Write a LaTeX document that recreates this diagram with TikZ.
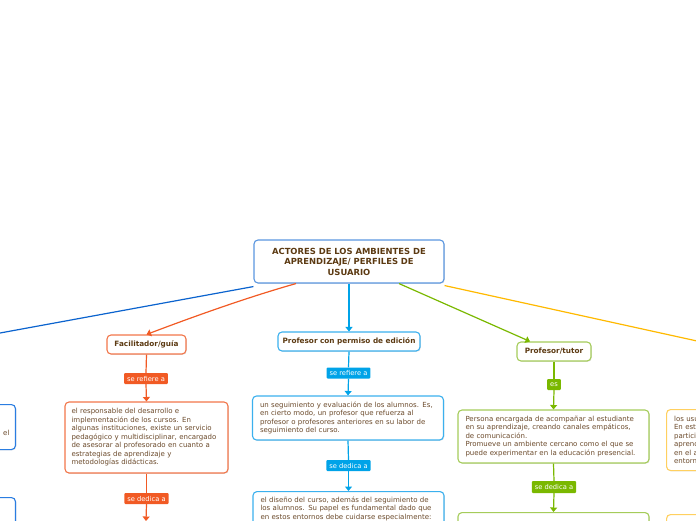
\documentclass[tikz,border=0pt]{standalone}
\usepackage{fontspec}
\setmainfont{DejaVu Sans}
\usetikzlibrary{arrows.meta,shadows}
\definecolor{txt}{HTML}{6B4A2B}
\definecolor{ttl}{HTML}{5C3A12}
\definecolor{rootc}{HTML}{5A96E0}
\definecolor{dblue}{HTML}{0B63CE}
\definecolor{lblue}{HTML}{2A7DE1}
\definecolor{orl}{HTML}{F15A24}
\definecolor{orb}{HTML}{F2764A}
\definecolor{cyl}{HTML}{00A3E8}
\definecolor{cyb}{HTML}{3BB0EE}
\definecolor{grl}{HTML}{7AB800}
\definecolor{grb}{HTML}{A5CC5A}
\definecolor{yel}{HTML}{FFB900}
\definecolor{yeb}{HTML}{FFD060}
\tikzset{
  box/.style={draw, rounded corners=4pt, line width=1.1pt, fill=white, text=txt, align=left, inner sep=0pt,
    drop shadow={shadow xshift=0.8pt, shadow yshift=-0.8pt, opacity=0.22}},
  topic/.style={box, font=\bfseries\fontsize{7.3}{8}\selectfont, text=ttl, align=center, minimum height=19pt},
  lab/.style={fill=#1, text=white, inner xsep=3pt, inner ysep=0pt, minimum height=11pt, rounded corners=1pt, font=\fontsize{6.7}{7}\selectfont},
  arr/.style={line width=1.2pt, -{Triangle[width=7pt,length=4.5pt]}},
  ln/.style={line width=1.2pt}
}
\begin{document}
\begin{tikzpicture}[x=1pt,y=-1pt, font=\fontsize{7}{8.5}\selectfont]
\useasboundingbox (0,0) rectangle (696,520);
\clip (0,0) rectangle (696,520);

% root
\node[box, draw=rootc, align=center, text=ttl, font=\bfseries\fontsize{8.4}{10.5}\selectfont,
  minimum width=190pt, minimum height=43pt] (root) at (349,261.5)
  {ACTORES DE LOS AMBIENTES DE\\APRENDIZAJE/ PERFILES DE\\USUARIO};

% off-screen targets
\coordinate (lt) at (-120,355);
\coordinate (rt) at (820,368);

% topics
\node[topic, draw=orb, minimum width=79pt] (fac) at (146.5,344.5) {Facilitador/guía};
\node[topic, draw=cyb, minimum width=142pt] (ped) at (349,341.5) {Profesor con permiso de edición};
\node[topic, draw=grb, minimum width=74pt] (tut) at (554,351.5) {Profesor/tutor};

% main connectors
\draw[ln, dblue] ([yshift=-3pt]root.south west) -- (lt);
\draw[arr, orl] ([xshift=-53pt]root.south) .. controls (245,298) and (190,318) .. (fac.north);
\draw[arr, cyl] (root.south) -- (ped.north);
\draw[arr, grl] ([xshift=50pt]root.south) -- ([xshift=-24pt]tut.north);
\draw[ln, yel] ([yshift=-2pt]root.south east) -- (rt);

% left (blue) boxes, mostly off-screen
\node[box, draw=lblue, minimum width=191pt, minimum height=45pt, anchor=north east] (l1) at (16,404) {};
\node[text=txt, anchor=east] (l1t) at (13,433) {el};
\node[box, draw=lblue, minimum width=191pt, minimum height=60pt, anchor=north east] (l2) at (16,497) {};

% Facilitador branch
\node[lab=orl] (fl1) at (146,378.5) {se refiere a};
\node[box, draw=orb, minimum width=163pt, minimum height=71pt, text width=150pt] (fb1) at (146.5,437.5)
  {el responsable del desarrollo e\\
   implementación de los cursos. En\\
   algunas instituciones, existe un servicio\\
   pedagógico y multidisciplinar, encargado\\
   de asesorar al profesorado en cuanto a\\
   estrategias de aprendizaje y\\
   metodologías didácticas.};
\node[lab=orl] (fl2) at (146.5,498.5) {se dedica a};
\coordinate (fb2) at (146,521);
\draw[ln, orl] (fac.south) -- (fl1.north);
\draw[arr, orl] (fl1.south) -- (fb1.north);
\draw[ln, orl] (fb1.south) -- (fl2.north);
\draw[arr, orl] (fl2.south) -- (fb2);

% Profesor con permiso branch
\node[lab=cyl] (pl1) at (348.5,373) {se refiere a};
\node[box, draw=cyb, minimum width=191pt, minimum height=44pt, text width=176pt] (pb1) at (348,418)
  {un seguimiento y evaluación de los alumnos. Es,\\
   en cierto modo, un profesor que refuerza al\\
   profesor o profesores anteriores en su labor de\\
   seguimiento del curso.};
\node[lab=cyl] (pl2) at (348.5,465.5) {se dedica a};
\node[box, draw=cyb, minimum width=191pt, text width=176pt, anchor=north] (pb2) at (348.5,491)
  {\parbox[t][70pt][t]{176pt}{\vspace{5pt}el diseño del curso, además del seguimiento de\\
   los alumnos. Su papel es fundamental dado que\\
   en estos entornos debe cuidarse especialmente:}};
\draw[ln, cyl] (ped.south) -- (pl1.north);
\draw[arr, cyl] (pl1.south) -- (pb1.north);
\draw[ln, cyl] (pb1.south) -- (pl2.north);
\draw[arr, cyl] (pl2.south) -- (pb2.north);

% Profesor/tutor branch
\node[lab=grl] (gl1) at (554,384.5) {es};
\node[box, draw=grb, minimum width=191pt, minimum height=53pt, text width=176pt] (gb1) at (553.5,436.5)
  {Persona encargada de acompañar al estudiante\\
   en su aprendizaje, creando canales empáticos,\\
   de comunicación.\\
   Promueve un ambiente cercano como el que se\\
   puede experimentar en la educación presencial.};
\node[lab=grl, minimum height=12pt] (gl2) at (554,487) {se dedica a};
\node[box, draw=grb, minimum width=191pt, minimum height=60pt, anchor=north] (gb2) at (553.5,512) {};
\draw[ln, grl] (tut.south) -- (gl1.north);
\draw[arr, grl] (gl1.south) -- (gb1.north);
\draw[ln, grl] (gb1.south) -- (gl2.north);
\draw[arr, grl] (gl2.south) -- (gb2.north);

% right (yellow) boxes, mostly off-screen
\node[box, draw=yeb, minimum width=191pt, minimum height=61pt, text width=176pt, anchor=north west] (y1) at (666,409)
  {los usuarios\\En este\\participan\\aprendizaje\\en el aula\\entornos};
\node[box, draw=yeb, minimum width=191pt, minimum height=60pt, anchor=north west] (y2) at (666,514) {};
\end{tikzpicture}
\end{document}
